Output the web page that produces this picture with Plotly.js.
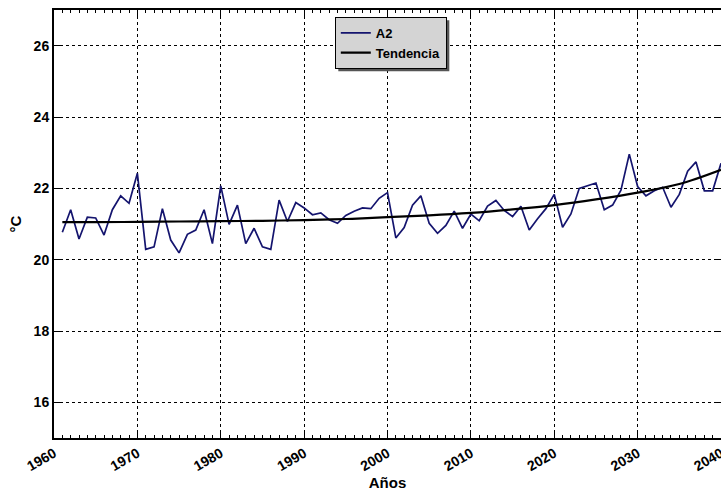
<!DOCTYPE html>
<html>
<head>
<meta charset="utf-8">
<script src="https://cdn.plot.ly/plotly-3.0.1.min.js"></script>
<style>html,body{margin:0;padding:0;background:#fff;}#chart{width:721px;height:491px;}</style>
</head>
<body>
<div id="chart"></div>
<script>
const years = [1961,1962,1963,1964,1965,1966,1967,1968,1969,1970,
  1971,1972,1973,1974,1975,1976,1977,1978,1979,1980,
  1981,1982,1983,1984,1985,1986,1987,1988,1989,1990,
  1991,1992,1993,1994,1995,1996,1997,1998,1999,2000,
  2001,2002,2003,2004,2005,2006,2007,2008,2009,2010,
  2011,2012,2013,2014,2015,2016,2017,2018,2019,2020,
  2021,2022,2023,2024,2025,2026,2027,2028,2029,2030,
  2031,2032,2033,2034,2035,2036,2037,2038,2039,2040];
const a2 = [20.77,21.40,20.58,21.19,21.17,20.69,21.40,21.79,21.58,22.42,
  20.29,20.36,21.43,20.55,20.19,20.71,20.83,21.40,20.45,22.07,
  20.99,21.53,20.45,20.88,20.36,20.29,21.67,21.07,21.60,21.45,
  21.26,21.31,21.12,21.02,21.24,21.36,21.45,21.43,21.72,21.88,
  20.61,20.90,21.53,21.79,21.02,20.74,20.96,21.36,20.88,21.28,
  21.09,21.50,21.66,21.38,21.21,21.50,20.83,21.15,21.43,21.83,
  20.91,21.28,22.00,22.07,22.15,21.40,21.53,21.95,22.96,22.05,
  21.79,21.93,22.03,21.47,21.83,22.48,22.74,21.93,21.93,22.70];
const trendYears = [1961,1965,1970,1975,1980,1985,1990,1995,2000,2005,2010,2015,2020,2025,2030,2035,2040];
const trendVals  = [21.05,21.05,21.06,21.07,21.08,21.09,21.11,21.14,21.19,21.24,21.31,21.41,21.53,21.69,21.88,22.12,22.52];
const xTicks = [1960,1970,1980,1990,2000,2010,2020,2030,2040];
const yTicks = [16,18,20,22,24,26];
const seriesNames = ['A2','Tendencia'];
const xLabel = 'Años';
const yLabel = '°C';

const fontFam = 'Liberation Sans Narrow, Liberation Sans, Arial, sans-serif';
const tf = {family: fontFam, size: 14, color: '#000', weight: 'bold'};
const lf = {family: fontFam, size: 13, color: '#000', weight: 'bold'};

const traces = [
  {x: years, y: a2, type: 'scatter', mode: 'lines', name: seriesNames[0],
   line: {color: '#14146e', width: 1.7}},
  {x: trendYears, y: trendVals, type: 'scatter', mode: 'lines', name: seriesNames[1],
   line: {color: '#000000', width: 2.2, shape: 'spline'}}
];

const layout = {
  width: 721, height: 491,
  margin: {l: 54, r: 0, t: 10, b: 53},
  paper_bgcolor: '#ffffff', plot_bgcolor: '#ffffff',
  font: tf,
  showlegend: true,
  legend: {x: 0.421, y: 0.984, xanchor: 'left', yanchor: 'top',
    bgcolor: '#d4d4d4', bordercolor: '#000', borderwidth: 1,
    font: lf, tracegroupgap: 0, itemwidth: 30},
  xaxis: {
    range: [1960, 2040], tickvals: xTicks, ticktext: xTicks.map(String),
    tickangle: -30, ticks: 'inside', ticklen: 7, tickwidth: 1, tickcolor: '#000',
    ticklabeloverflow: 'allow',
    showline: true, linewidth: 2, linecolor: '#000', mirror: 'ticks',
    showgrid: true, gridcolor: '#000', gridwidth: 1, griddash: 'dot',
    zeroline: false,
    minor: {dtick: 1, tick0: 1960, ticks: 'inside', ticklen: 3, tickcolor: '#000', showgrid: false},
    tickfont: tf,
    title: {text: xLabel, font: {family: fontFam, size: 15, color: '#000', weight: 'bold'}, standoff: 2}
  },
  yaxis: {
    range: [15, 27], tickvals: yTicks, ticktext: yTicks.map(String),
    ticks: 'inside', ticklen: 7, tickwidth: 1, tickcolor: '#000',
    showline: true, linewidth: 2, linecolor: '#000', mirror: 'ticks',
    showgrid: true, gridcolor: '#000', gridwidth: 1, griddash: 'dot',
    zeroline: false,
    tickfont: tf,
    title: {text: yLabel, font: {family: fontFam, size: 15, color: '#000', weight: 'bold'}, standoff: 8}
  },
  shapes: []
};

Plotly.newPlot('chart', traces, layout, {displayModeBar: false, staticPlot: true}).then(gd => {
  const bg = gd.querySelector('.legend .bg');
  const cont = gd.getBoundingClientRect();
  if (bg) {
    const r = bg.getBoundingClientRect();
    const L = 54, W = 667, T = 10, H = 428;
    const x0 = (r.left - cont.left + 3 - L) / W, x1 = (r.right - cont.left + 3 - L) / W;
    const y1 = 1 - (r.top - cont.top + 3 - T) / H, y0 = 1 - (r.bottom - cont.top + 3 - T) / H;
    Plotly.relayout(gd, {shapes: [{type: 'rect', xref: 'paper', yref: 'paper', layer: 'above',
      x0: x0, x1: x1, y0: y0, y1: y1, fillcolor: '#555', line: {width: 0}}]});
  }
});
</script>
</body>
</html>
